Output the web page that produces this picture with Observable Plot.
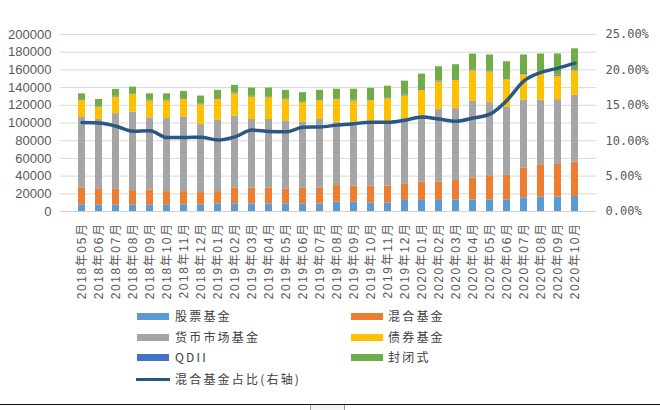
<!DOCTYPE html>
<html><head><meta charset="utf-8">
<script src="https://cdn.jsdelivr.net/npm/d3@7"></script>
<script src="https://cdn.jsdelivr.net/npm/@observablehq/plot@0.6"></script>
<style>
body{margin:0;background:#fff;width:660px;height:410px;overflow:hidden;position:relative;font-family:"Noto Sans CJK SC",sans-serif}
#chart{position:absolute;left:0;top:0}
.lg{position:absolute;font-size:12px;letter-spacing:2.2px;color:#404040;line-height:14px;white-space:nowrap}
.sw{position:absolute}
#bottomline{position:absolute;left:0;top:404px;width:660px;height:0;border-top:1.5px solid #111}
#tab{position:absolute;left:310px;top:405px;width:33px;height:6px;border-left:1px solid #999;border-right:1px solid #999;background:#f4f4f4}
</style>
</head><body>
<div id="chart"></div>
<div id="bottomline"></div><div id="tab"></div>
<script>
const months = ["2018年05月","2018年06月","2018年07月","2018年08月","2018年09月","2018年10月","2018年11月","2018年12月",
"2019年01月","2019年02月","2019年03月","2019年04月","2019年05月","2019年06月","2019年07月","2019年08月","2019年09月","2019年10月","2019年11月","2019年12月",
"2020年01月","2020年02月","2020年03月","2020年04月","2020年05月","2020年06月","2020年07月","2020年08月","2020年09月","2020年10月"];

const stockFund = [7500,7500,7500,7500,7500,7500,7500,7500,8600,8600,8600,8600,8600,8600,8600,10600,10600,9400,9400,12500,12500,12500,13200,13200,13200,13200,15500,16200,16200,17000];
const mixedFund = [18700,17500,17500,16100,16900,15000,15000,13900,13900,17600,17600,17600,16500,17600,17600,18800,18100,19300,19300,18100,20700,20700,21900,24900,26400,27600,33600,35900,37000,38800];
const moneyFund = [80800,79000,85600,88900,81300,82500,84400,76800,80500,81400,77700,77700,77300,75000,77700,71600,72300,73200,73200,74300,75500,81900,81100,86400,83400,77300,76600,73600,73200,75500];
const bondFund = [18600,14000,18800,19900,19200,19900,19800,22500,23700,25400,25500,24700,24000,21800,21700,25400,23900,23800,25600,25700,28300,31300,32100,34400,34700,30900,29000,32000,26400,27600];
const qdiiFund = [700,700,750,750,750,750,750,750,800,800,800,800,800,850,850,850,850,850,900,900,900,950,950,1000,1000,1000,1050,1100,1150,1200];
const closedFund = [6600,7900,7800,7400,7300,7300,8200,9000,9400,8700,9300,10100,9700,10400,10500,10900,12400,12700,13200,15800,17300,16200,16600,18000,18100,19200,21100,19200,24100,23700];
const mixedShare = [12.56,12.5,12.05,11.35,11.4,10.45,10.45,10.5,10.1,10.55,11.5,11.3,11.25,11.9,11.95,12.2,12.4,12.6,12.6,12.9,13.35,13.05,12.75,13.2,13.75,15.7,18.45,19.65,20.25,20.95];

const seriesNames = ["股票基金","混合基金","货币市场基金","债券基金","QDII","封闭式"];
const seriesValues = [stockFund, mixedFund, moneyFund, bondFund, qdiiFund, closedFund];
const lineName = "混合基金占比(右轴)";
const leftTicks = [0,20000,40000,60000,80000,100000,120000,140000,160000,180000,200000];
const rightTicks = [0,5,10,15,20,25];
const yMax = 200000, pctMax = 25;

const seriesColors = ["#5b9bd5","#ed7d31","#a5a5a5","#ffc000","#4472c4","#70ad47"];
const lineColor = "#2a5885";

const data = [];
months.forEach((m,i)=>seriesNames.forEach((s,j)=>data.push({month:m, series:s, value:seriesValues[j][i]})));
const lineData = months.map((m,i)=>({month:m, share:mixedShare[i]}));

const chart = Plot.plot({
  width:660, height:410,
  marginLeft:60, marginRight:64, marginTop:34, marginBottom:199,
  style:{fontFamily:'"Liberation Sans","Noto Sans CJK SC",sans-serif', fontSize:"12px", color:"#595959", background:"white", overflow:"visible"},
  x:{domain:months, paddingInner:0.6, paddingOuter:0.3, label:null},
  y:{domain:[0,yMax], label:null},
  color:{domain:seriesNames, range:seriesColors},
  marks:[
    Plot.gridY(leftTicks, {stroke:"#d9d9d9", strokeOpacity:1}),
    Plot.axisY(leftTicks, {anchor:"left", tickSize:0, tickPadding:9, label:null, tickFormat:d=>String(d), fontSize:13}),
    Plot.axisY(rightTicks.map(p=>p*yMax/pctMax), {anchor:"right", tickSize:0, tickPadding:9, label:null,
      tickFormat:d=>(d*pctMax/yMax).toFixed(2)+"%", fontFamily:'"DejaVu Sans Mono",monospace', fontSize:12}),
    Plot.axisX({tickRotate:-90, tickSize:0, tickPadding:11, label:null, fontSize:12}),
    Plot.barY(data, {x:"month", y:"value", fill:"series", order:seriesNames}),
    Plot.ruleY([0], {stroke:"#d0d0d0"}),
    Plot.line(lineData, {x:"month", y:d=>d.share*yMax/pctMax, stroke:lineColor, strokeWidth:3.5, curve:"monotone-x"})
  ]
});
d3.select(chart).selectAll("g[aria-label='x-axis tick label'] text").style("letter-spacing","1.6px");
document.getElementById("chart").appendChild(chart);

// legend
const legendPos = [
  {sx:137, tx:175, y:316}, {sx:351, tx:388, y:316},
  {sx:137, tx:175, y:337}, {sx:351, tx:388, y:337},
  {sx:137, tx:175, y:357}, {sx:351, tx:388, y:357}
];
seriesNames.forEach((s,i)=>{
  const p = legendPos[i];
  const sw = document.createElement("div");
  sw.className="sw";
  Object.assign(sw.style,{left:p.sx+"px", top:(p.y-3.5)+"px", width:"32px", height:"7px", background:seriesColors[i]});
  document.body.appendChild(sw);
  const t = document.createElement("div");
  t.className="lg"; t.textContent=s;
  Object.assign(t.style,{left:p.tx+"px", top:(p.y-7.5)+"px"});
  document.body.appendChild(t);
});
const lsw = document.createElement("div");
lsw.className="sw";
Object.assign(lsw.style,{left:"136px", top:"377.5px", width:"34px", height:"3px", background:lineColor});
document.body.appendChild(lsw);
const lt = document.createElement("div");
lt.className="lg"; lt.textContent=lineName;
Object.assign(lt.style,{left:"175px", top:"371.5px"});
document.body.appendChild(lt);
</script>
</body></html>
